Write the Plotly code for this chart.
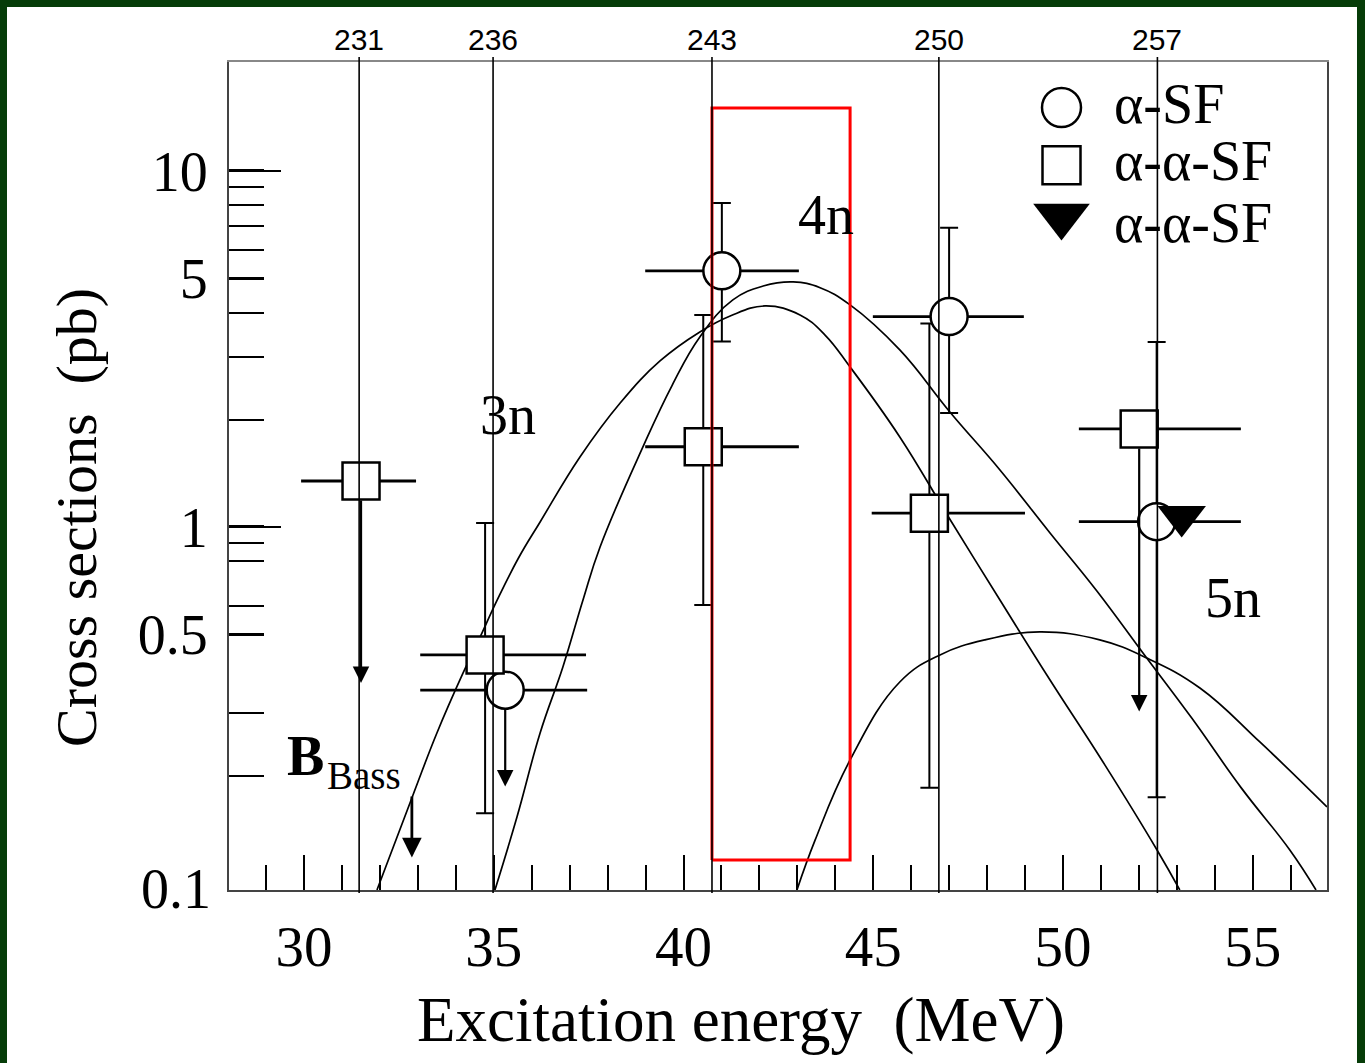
import numpy as np
import plotly.graph_objects as go

# ---------------- data ----------------
# alpha-SF (open circles): excitation energy [MeV], cross section [pb]
sf_E = [41.01, 47.00, 52.47]
sf_sigma = [5.24, 3.90, 1.035]
sf_E_lo = [38.99, 44.99, 50.42]
sf_E_hi = [43.04, 48.97, 54.69]
sf_sig_lo = [3.32, 2.09, 0.174]
sf_sig_hi = [8.13, 6.93, 3.31]

# alpha-SF upper limit
sf_lim_E = [35.30]
sf_lim_sigma = [0.348]
sf_lim_E_lo = [33.06]
sf_lim_E_hi = [37.46]
sf_lim_to = [0.1865]

# alpha-alpha-SF (open squares)
aa_E = [34.77, 40.52, 46.48]
aa_sigma = [0.437, 1.68, 1.093]
aa_E_lo = [33.06, 38.99, 44.96]
aa_E_hi = [37.43, 43.04, 49.00]
aa_sig_lo = [0.157, 0.604, 0.185]
aa_sig_hi = [1.026, 3.94, 3.73]

# alpha-alpha-SF upper limits
aa_lim_E = [31.50, 52.01]
aa_lim_sigma = [1.346, 1.885]
aa_lim_E_lo = [29.92, 50.42]
aa_lim_E_hi = [32.95, 54.69]
aa_lim_to = [0.3645, 0.303]

# alpha-alpha-SF (filled triangle)
tri_E = [53.13]
tri_sigma = [1.07]

# calculated excitation functions
curve_3n_E = [31.92, 32.87, 33.50, 34.19, 34.64, 35.09, 35.65, 36.22, 37.27, 38.33, 39.38,
              40.43, 41.23, 42.15, 43.07, 43.73, 44.39, 45.70, 47.00, 48.34, 49.66, 51.10,
              52.48, 53.08]
curve_3n_sigma = [0.0956, 0.1767, 0.2638, 0.389, 0.4909, 0.6236, 0.818, 1.033, 1.573, 2.230,
                  2.926, 3.53, 3.914, 4.176, 3.94, 3.46, 2.814, 1.790, 1.06, 0.6236, 0.3717,
                  0.215, 0.1238, 0.0956]

curve_4n_E = [35.03, 35.61, 36.22, 36.82, 37.35, 37.80, 38.93, 39.70, 40.43, 41.30, 42.10, 42.89,
              43.60, 44.39, 45.70, 47.02, 48.34, 49.66, 50.90, 52.11, 53.40, 54.70, 55.98, 56.67]
curve_4n_sigma = [0.0956, 0.1532, 0.2638, 0.4044, 0.6236, 0.8786, 1.678, 2.50, 3.418, 4.342,
                  4.75, 4.878, 4.70, 4.204, 3.142, 2.104, 1.446, 0.962, 0.66, 0.4426, 0.29,
                  0.185, 0.1238, 0.0956]

curve_5n_E = [42.99, 43.47, 44.39, 45.70, 46.76, 47.94, 49.39, 50.97, 52.21, 53.61, 55.19, 56.96]
curve_5n_sigma = [0.0956, 0.1321, 0.2216, 0.3669, 0.4370, 0.4816, 0.5071, 0.4816, 0.4285,
                  0.3530, 0.2489, 0.1635]

# Bass barrier
bass_E = 32.84
bass_sigma_from = 0.1766
bass_sigma_to = 0.118

# compound-nucleus excitation energies marked on the top axis
mass_labels = ["231", "236", "243", "250", "257"]
mass_E = [31.45, 34.98, 40.75, 46.73, 52.49]

# highlighted window
box_E = [40.75, 44.39]
box_sigma = [0.116, 15.03]

x_ticks = [30, 35, 40, 45, 50, 55]
y_ticks = [0.5, 1, 5, 10]
y_ticktext = ["0.5", "1", "5", "10"]
y_bottom_label = "0.1"
y_minor = [0.2, 0.3, 0.6, 0.8, 0.9, 2, 3, 4, 6, 7, 8, 9]
y_long = [1, 10]

# ---------------- layout constants ----------------
W, H = 1365, 1063
ML, MR, MT, MB = 229, 38, 62, 173
PW, PH = W - ML - MR, H - MT - MB
X_RANGE = [28.02, 56.96]
Y_RANGE = [-1.0197, 1.306]

SERIF = "Liberation Serif"
SANS = "Liberation Sans"
FRAME = "#063c08"


def px_x(px):
    return (px - ML) / PW


def px_y(py):
    return (H - MB - py) / PH


fig = go.Figure()

curve_line = dict(color="black", width=1.7, shape="spline", smoothing=1.2)
for ex, ey in [(curve_3n_E, curve_3n_sigma), (curve_4n_E, curve_4n_sigma),
               (curve_5n_E, curve_5n_sigma)]:
    fig.add_trace(go.Scatter(x=ex, y=ey, mode="lines", line=curve_line,
                             showlegend=False, hoverinfo="skip"))


def xerr(E, lo, hi):
    return dict(type="data", symmetric=False,
                array=[h - e for e, h in zip(E, hi)],
                arrayminus=[e - l for e, l in zip(E, lo)],
                width=0, thickness=2.8, color="black")


def yerr(S, lo, hi):
    return dict(type="data", symmetric=False,
                array=[h - s for s, h in zip(S, hi)],
                arrayminus=[s - l for s, l in zip(S, lo)],
                width=9, thickness=2.0, color="black")


open_circle = dict(symbol="circle", size=37, color="white",
                   line=dict(color="black", width=2.5))
open_square = dict(symbol="square", size=37, color="white",
                   line=dict(color="black", width=2.5))

# upper limits (no vertical error bars)
fig.add_trace(go.Scatter(x=sf_lim_E, y=sf_lim_sigma, mode="markers", marker=open_circle,
                         error_x=xerr(sf_lim_E, sf_lim_E_lo, sf_lim_E_hi), showlegend=False))
fig.add_trace(go.Scatter(x=aa_lim_E, y=aa_lim_sigma, mode="markers", marker=open_square,
                         error_x=xerr(aa_lim_E, aa_lim_E_lo, aa_lim_E_hi), showlegend=False))
# measured points
fig.add_trace(go.Scatter(x=aa_E, y=aa_sigma, mode="markers", marker=open_square,
                         error_x=xerr(aa_E, aa_E_lo, aa_E_hi),
                         error_y=yerr(aa_sigma, aa_sig_lo, aa_sig_hi), showlegend=False))
fig.add_trace(go.Scatter(x=sf_E, y=sf_sigma, mode="markers", marker=open_circle,
                         error_x=xerr(sf_E, sf_E_lo, sf_E_hi),
                         error_y=yerr(sf_sigma, sf_sig_lo, sf_sig_hi), showlegend=False))
fig.add_trace(go.Scatter(x=tri_E, y=tri_sigma, mode="markers",
                         marker=dict(symbol="triangle-down", size=42, color="black",
                                     line=dict(width=0)), showlegend=False))

# highlighted window
fig.add_trace(go.Scatter(x=[box_E[0], box_E[1], box_E[1], box_E[0], box_E[0]],
                         y=[box_sigma[0], box_sigma[0], box_sigma[1], box_sigma[1], box_sigma[0]],
                         mode="lines", line=dict(color="#ff0000", width=3),
                         showlegend=False, hoverinfo="skip"))

# empty trace so the long-tick overlay axis is rendered
fig.add_trace(go.Scatter(x=[None], y=[None], yaxis="y2", showlegend=False, hoverinfo="skip"))

# key, drawn on a hidden unit-square overlay
key_x = px_x(1061.5)
fig.add_trace(go.Scatter(x=[key_x], y=[px_y(107.5)], xaxis="x3", yaxis="y3", mode="markers",
                         marker=dict(symbol="circle", size=39, color="white",
                                     line=dict(color="black", width=2.5)),
                         showlegend=False, hoverinfo="skip"))
fig.add_trace(go.Scatter(x=[key_x], y=[px_y(165.3)], xaxis="x3", yaxis="y3", mode="markers",
                         marker=dict(symbol="square", size=38, color="white",
                                     line=dict(color="black", width=2.5)),
                         showlegend=False, hoverinfo="skip"))
fig.add_trace(go.Scatter(x=[key_x], y=[px_y(216)], xaxis="x3", yaxis="y3", mode="markers",
                         marker=dict(symbol="triangle-down", size=49, color="black",
                                     line=dict(width=0)),
                         showlegend=False, hoverinfo="skip"))

annotations = []
for txt, yy in [("\u03b1-SF", 104), ("\u03b1-\u03b1-SF", 160.7), ("\u03b1-\u03b1-SF", 223.5)]:
    annotations.append(dict(text=txt, xref="paper", yref="paper", x=px_x(1112), y=px_y(yy),
                            xanchor="left", yanchor="middle", showarrow=False,
                            font=dict(family=SERIF, size=56, color="black")))

# upper-limit arrows
for E, s, to, r in ([(e, s, t, 17) for e, s, t in zip(sf_lim_E, sf_lim_sigma, sf_lim_to)] +
                    [(e, s, t, 18) for e, s, t in zip(aa_lim_E, aa_lim_sigma, aa_lim_to)]):
    annotations.append(dict(x=E, y=np.log10(to), ax=E, ay=np.log10(s), xref="x", yref="y",
                            axref="x", ayref="y", text="", showarrow=True, arrowhead=2,
                            arrowsize=1.5, arrowwidth=2.2, arrowcolor="black",
                            startstandoff=r))
# Bass barrier arrow
annotations.append(dict(x=bass_E, y=np.log10(bass_sigma_to), ax=bass_E,
                        ay=np.log10(bass_sigma_from), xref="x", yref="y", axref="x", ayref="y",
                        text="", showarrow=True, arrowhead=2, arrowsize=1.4, arrowwidth=2.8,
                        arrowcolor="black"))
annotations.append(dict(text="<b>B</b>", x=30.03, y=-0.643, xref="x", yref="y", showarrow=False,
                        font=dict(family=SERIF, size=56, color="black")))
annotations.append(dict(text="Bass", x=31.58, y=-0.699, xref="x", yref="y", showarrow=False,
                        font=dict(family=SERIF, size=39, color="black")))

# channel labels
for txt, ex, ly in [("3n", 35.38, 0.3147), ("4n", 43.76, 0.876), ("5n", 54.48, -0.1994)]:
    annotations.append(dict(text=txt, x=ex, y=ly, xref="x", yref="y", showarrow=False,
                            font=dict(family=SERIF, size=56, color="black")))

# bottom y label sits on the axis line
annotations.append(dict(text=y_bottom_label, xref="paper", yref="paper", x=px_x(213), y=px_y(889),
                        xanchor="right", yanchor="middle", showarrow=False,
                        font=dict(family=SERIF, size=56, color="black")))

# mass numbers on top
for lab, e in zip(mass_labels, mass_E):
    annotations.append(dict(text=lab, x=e, xref="x", y=px_y(39), yref="paper",
                            xanchor="center", yanchor="middle", showarrow=False,
                            font=dict(family=SANS, size=30, color="black")))

# axis titles
annotations.append(dict(text="Excitation energy\u00a0 (MeV)", xref="paper", yref="paper",
                        x=px_x(741), y=px_y(1020), xanchor="center", yanchor="middle",
                        showarrow=False, font=dict(family=SERIF, size=63, color="black")))
annotations.append(dict(text="Cross sections\u00a0 (pb)", xref="paper", yref="paper",
                        x=px_x(76), y=px_y(518), xanchor="center", yanchor="middle",
                        textangle=-90, showarrow=False,
                        font=dict(family=SERIF, size=58, color="black")))

shapes = []
for e in mass_E:
    shapes.append(dict(type="line", xref="x", yref="paper", x0=e, x1=e,
                       y0=px_y(893), y1=px_y(57), layer="above",
                       line=dict(color="black", width=1.6)))
# dark frame around the page
for x0, x1, y0, y1 in [(0, 7, 0, H), (0, W, 0, 7), (W - 8, W, 0, H)]:
    shapes.append(dict(type="rect", xref="paper", yref="paper",
                       x0=px_x(x0), x1=px_x(x1), y0=px_y(y1), y1=px_y(y0),
                       fillcolor=FRAME, line=dict(width=0), layer="above"))

fig.update_layout(
    width=W, height=H,
    margin=dict(l=ML, r=MR, t=MT, b=MB, pad=0),
    paper_bgcolor="white", plot_bgcolor="white",
    showlegend=False,
    annotations=annotations,
    shapes=shapes,
    xaxis=dict(range=X_RANGE, tickvals=x_ticks, ticks="inside", ticklen=35, tickwidth=2,
               tickcolor="black", showgrid=False, zeroline=False, showline=True,
               linecolor="#444", linewidth=2, mirror=False,
               tickfont=dict(family=SERIF, size=57, color="black"), ticklabelstandoff=6,
               minor=dict(dtick=1, ticks="inside", ticklen=25, tickwidth=1.6,
                          tickcolor="black", showgrid=False)),
    xaxis2=dict(range=X_RANGE, overlaying="x", side="top", anchor="y", showgrid=False,
                zeroline=False, showline=True, linecolor="#888", linewidth=2,
                showticklabels=False, ticks=""),
    yaxis=dict(type="log", range=Y_RANGE, tickvals=y_ticks, ticktext=y_ticktext,
               ticks="inside", ticklen=35, tickwidth=2.5, tickcolor="black",
               showgrid=False, zeroline=False, showline=True, linecolor="#444",
               linewidth=2, mirror=True,
               tickfont=dict(family=SERIF, size=56, color="black"), ticklabelstandoff=8,
               minor=dict(tickvals=y_minor, ticks="inside", ticklen=35, tickwidth=1.5,
                          tickcolor="black", showgrid=False)),
    yaxis2=dict(type="log", range=Y_RANGE, overlaying="y", side="left", anchor="x",
                tickvals=y_long, ticks="inside", ticklen=52, tickwidth=1.5,
                tickcolor="black", showticklabels=False, showgrid=False, zeroline=False,
                showline=False),
    xaxis3=dict(range=[0, 1], overlaying="x", anchor="y3", visible=False),
    yaxis3=dict(range=[0, 1], overlaying="y", anchor="x3", visible=False),
)

# a trace on the top axis so its frame line is drawn
fig.add_trace(go.Scatter(x=[None], y=[None], xaxis="x2", showlegend=False, hoverinfo="skip"))

fig.write_html("out.html")
